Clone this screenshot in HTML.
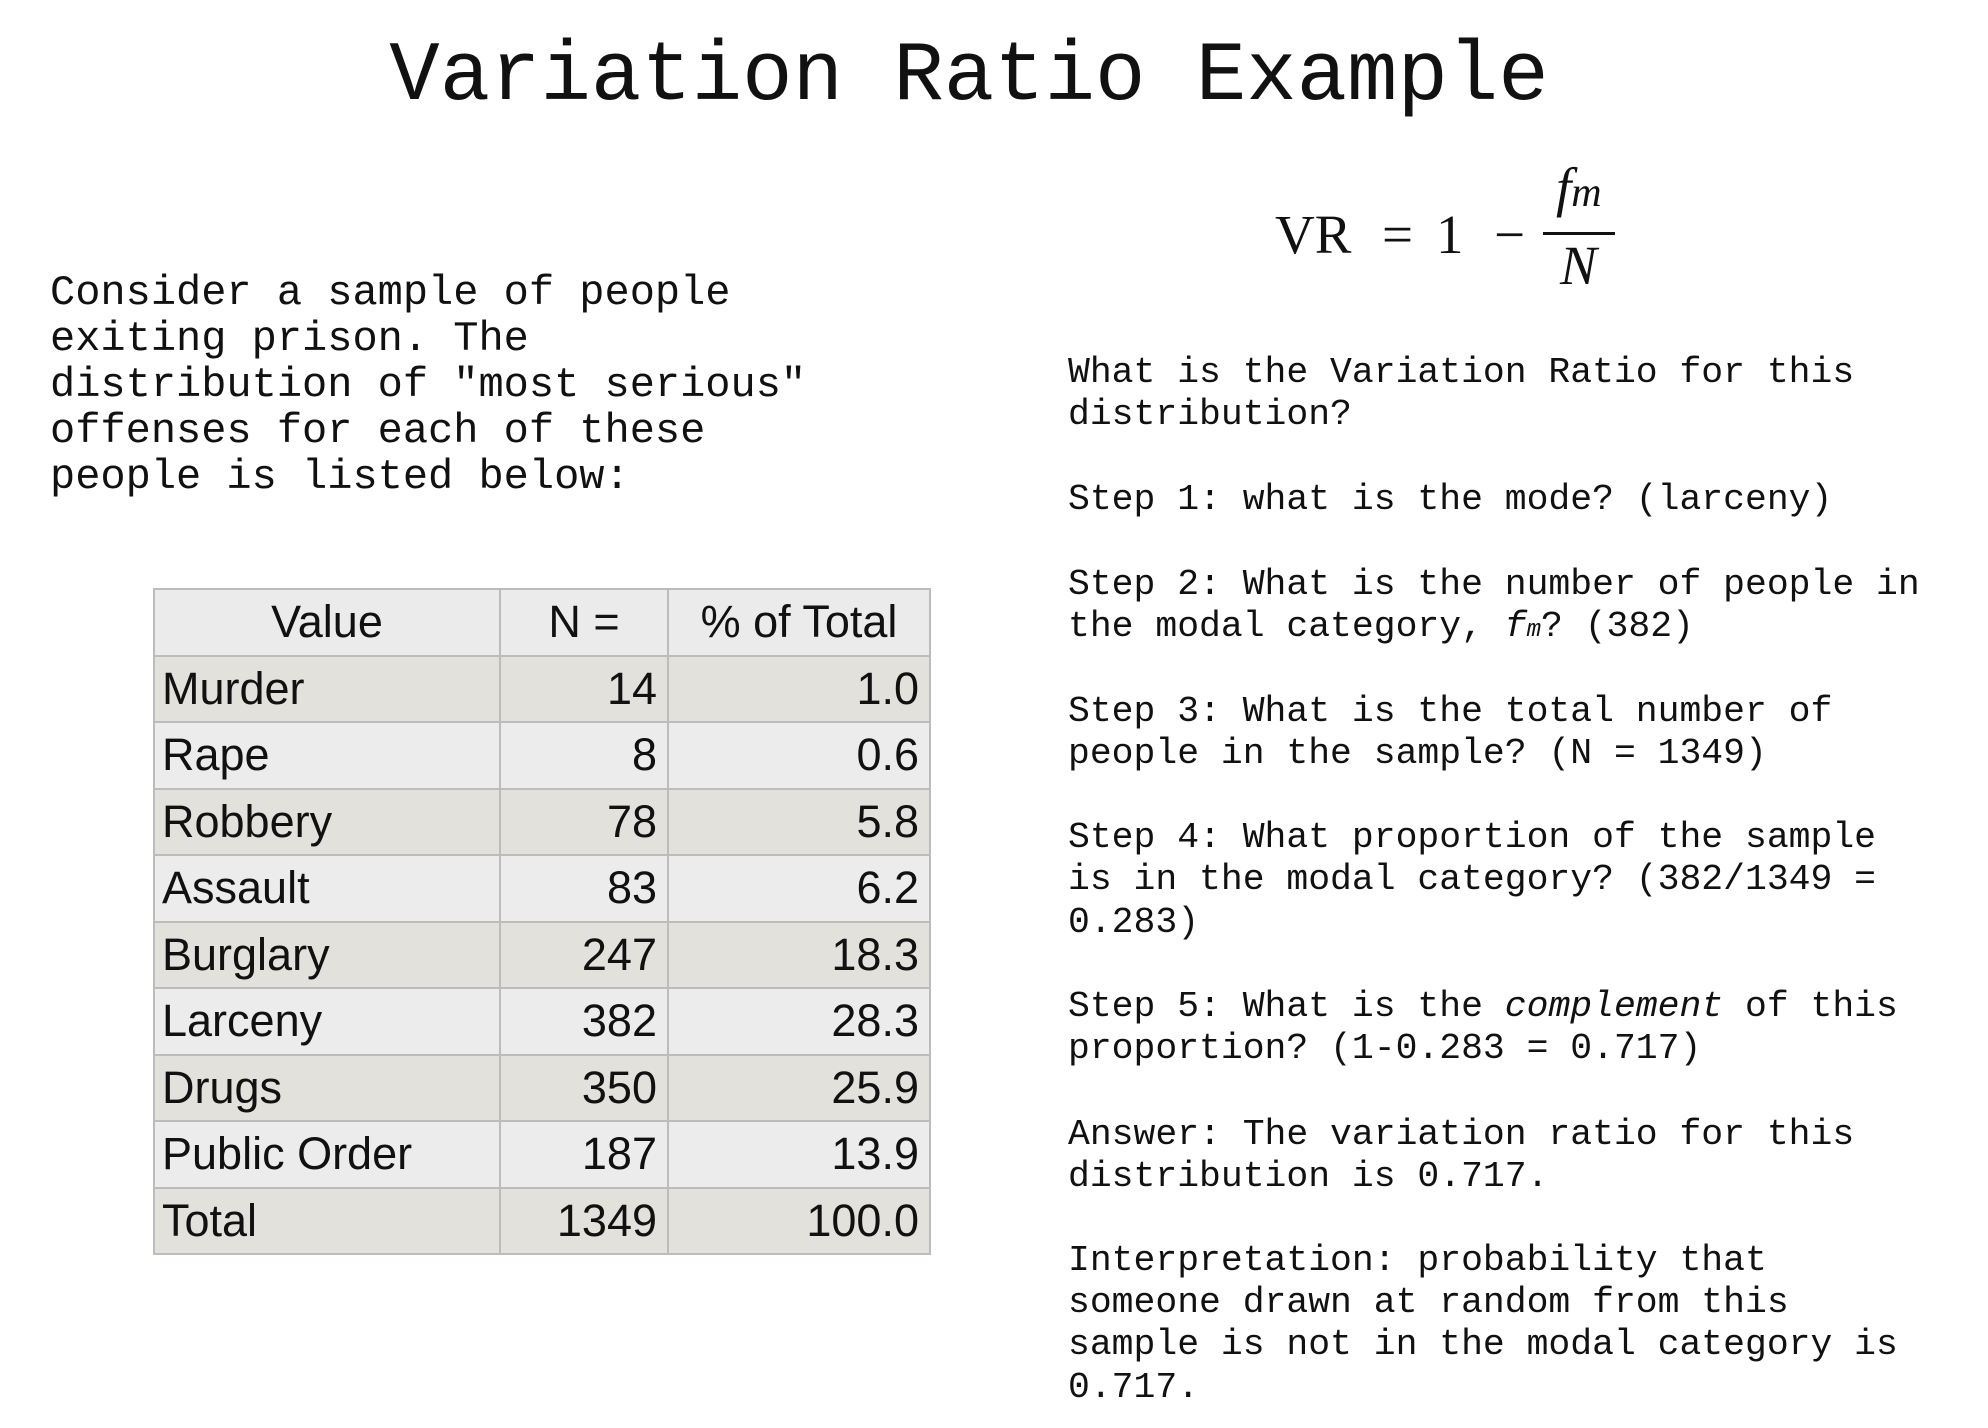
<!DOCTYPE html>
<html><head><meta charset="utf-8"><style>
body{margin:0;width:1988px;height:1428px;background:#fff;position:relative;overflow:hidden;font-family:"Liberation Mono",monospace;color:#111}
.l{position:absolute;white-space:pre;line-height:1em}
.t{font-size:84px;left:0;width:1938px;text-align:center}
.p{font-size:42px;left:50px}
.r{font-size:36.4px;left:1068px}
.m{font-family:"Liberation Serif",serif;position:absolute;line-height:1em;white-space:pre;font-size:55px}
table{position:absolute;left:153px;top:588px;border-collapse:collapse;table-layout:fixed;width:776px;font-family:"Liberation Sans",sans-serif;font-size:45px;border:2px solid #8a8a8a}
td,th{border:2px solid #bcbcbc;height:64.5px;padding:0 10px 0 7px;font-weight:normal;white-space:nowrap;overflow:hidden}
th{background:#ebebeb;text-align:center;padding:0}
tr:nth-child(even) td{background:#e2e1dc}
tr:nth-child(odd) td{background:#ececec}
td.n{text-align:right}
</style></head><body>
<div class="l t" style="top:36px">Variation Ratio Example</div>

<div>
<div class="m" style="left:1275px;top:207px">VR</div>
<div class="m" style="left:1382px;top:207px">=</div>
<div class="m" style="left:1436px;top:207px">1</div>
<div class="m" style="left:1494px;top:207px">&#8722;</div>
<div class="m" style="left:1556px;top:160px;font-style:italic">f<span style="font-size:42px">m</span></div>
<div style="position:absolute;left:1543px;top:232px;width:72px;height:3px;background:#111"></div>
<div class="m" style="left:1560px;top:238px;font-style:italic">N</div>
</div>

<div>
<div class="l p" style="top:272px">Consider a sample of people</div>
<div class="l p" style="top:318px">exiting prison. The</div>
<div class="l p" style="top:364px">distribution of "most serious"</div>
<div class="l p" style="top:410px">offenses for each of these</div>
<div class="l p" style="top:456px">people is listed below:</div>
</div>

<table>
<colgroup><col style="width:346px"><col style="width:168px"><col style="width:262px"></colgroup>
<tr><th>Value</th><th>N =</th><th>% of Total</th></tr>
<tr><td>Murder</td><td class="n">14</td><td class="n">1.0</td></tr>
<tr><td>Rape</td><td class="n">8</td><td class="n">0.6</td></tr>
<tr><td>Robbery</td><td class="n">78</td><td class="n">5.8</td></tr>
<tr><td>Assault</td><td class="n">83</td><td class="n">6.2</td></tr>
<tr><td>Burglary</td><td class="n">247</td><td class="n">18.3</td></tr>
<tr><td>Larceny</td><td class="n">382</td><td class="n">28.3</td></tr>
<tr><td>Drugs</td><td class="n">350</td><td class="n">25.9</td></tr>
<tr><td>Public Order</td><td class="n">187</td><td class="n">13.9</td></tr>
<tr><td>Total</td><td class="n">1349</td><td class="n">100.0</td></tr>
</table>

<div>
<div class="l r" style="top:355px">What is the Variation Ratio for this</div>
<div class="l r" style="top:397px">distribution?</div>
<div class="l r" style="top:482px">Step 1: what is the mode? (larceny)</div>
<div class="l r" style="top:567px">Step 2: What is the number of people in</div>
<div class="l r" style="top:609px">the modal category, <i>f<span style="font-size:24px">m</span></i>? (382)</div>
<div class="l r" style="top:694px">Step 3: What is the total number of</div>
<div class="l r" style="top:736px">people in the sample? (N = 1349)</div>
<div class="l r" style="top:820px">Step 4: What proportion of the sample</div>
<div class="l r" style="top:862px">is in the modal category? (382/1349 =</div>
<div class="l r" style="top:905px">0.283)</div>
<div class="l r" style="top:989px">Step 5: What is the <i>complement</i> of this</div>
<div class="l r" style="top:1031px">proportion? (1-0.283 = 0.717)</div>
<div class="l r" style="top:1117px">Answer: The variation ratio for this</div>
<div class="l r" style="top:1159px">distribution is 0.717.</div>
<div class="l r" style="top:1243px">Interpretation: probability that</div>
<div class="l r" style="top:1285px">someone drawn at random from this</div>
<div class="l r" style="top:1327px">sample is not in the modal category is</div>
<div class="l r" style="top:1370px">0.717.</div>
</div>
</body></html>
